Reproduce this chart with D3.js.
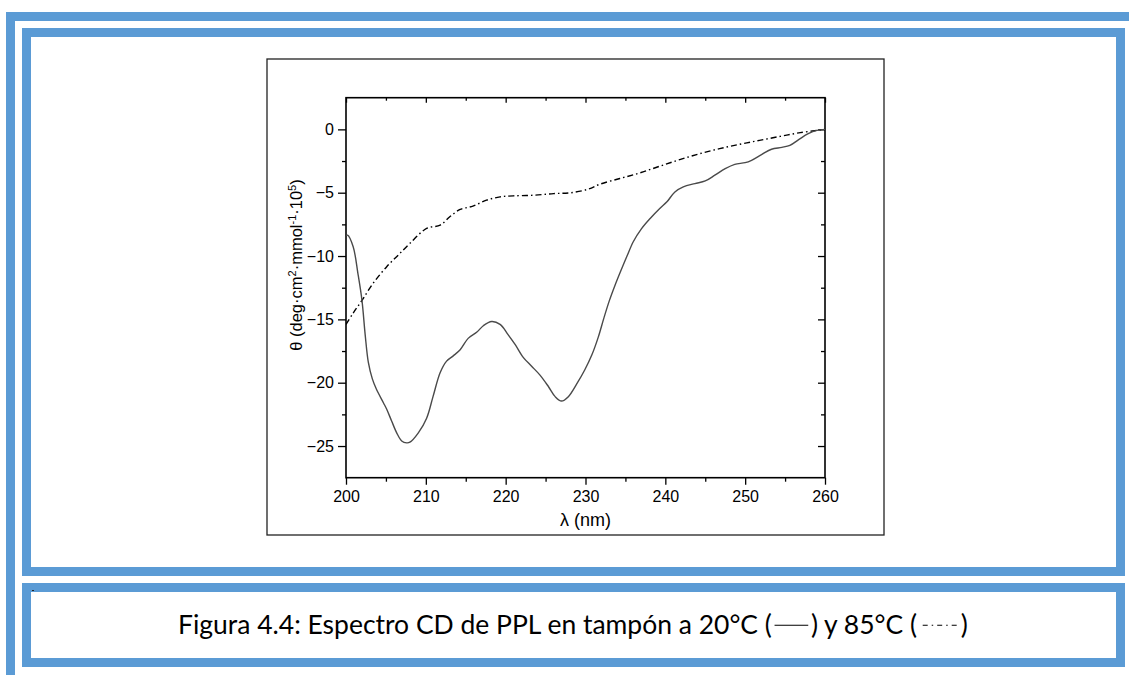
<!DOCTYPE html>
<html>
<head>
<meta charset="utf-8">
<script src="https://cdn.jsdelivr.net/npm/d3@7"></script>
<style>
  html, body { margin: 0; padding: 0; background: #fff; }
  svg { display: block; }
</style>
</head>
<body>
<svg id="chart" width="1129" height="675"></svg>
<script>
// ---- Data ----
const wavelength20 = [200.0, 200.2, 200.9, 201.5, 202.0, 202.4, 202.8, 203.3, 203.8, 204.7, 205.1, 205.7, 206.35, 206.98, 207.6, 208.0, 209.06, 210.1, 210.9, 211.8, 212.6, 213.4, 214.3, 215.3, 216.4, 217.2, 218.25, 219.3, 220.3, 221.2, 222.2, 223.25, 224.3, 225.35, 226.2, 227.0, 227.85, 228.9, 229.9, 230.8, 231.6, 232.3, 233.0, 233.7, 234.4, 235.2, 236.0, 237.0, 238.1, 239.3, 240.2, 241.2, 242.25, 243.7, 245.0, 246.2, 247.5, 248.7, 250.0, 250.8, 252.1, 253.3, 254.6, 255.6, 256.7, 257.9, 259.0, 260.0];
const theta20 = [-8.4, -8.35, -9.27, -11.4, -13.5, -16.2, -18.4, -19.7, -20.5, -21.6, -22.1, -23.0, -23.96, -24.6, -24.75, -24.7, -23.96, -22.8, -21.1, -19.2, -18.3, -17.9, -17.4, -16.5, -16.0, -15.5, -15.17, -15.4, -16.2, -17.0, -18.0, -18.7, -19.4, -20.3, -21.1, -21.45, -21.1, -20.1, -19.0, -17.8, -16.4, -14.9, -13.5, -12.3, -11.2, -10.0, -8.85, -7.85, -7.03, -6.24, -5.72, -4.94, -4.54, -4.28, -4.07, -3.62, -3.1, -2.76, -2.63, -2.44, -1.97, -1.57, -1.42, -1.26, -0.81, -0.34, -0.08, 0.0];

const wavelength85 = [200.0, 200.9, 202.0, 203.4, 205.1, 206.55, 208.0, 210.1, 211.8, 213.0, 214.3, 215.9, 217.6, 219.3, 220.95, 223.5, 226.0, 228.1, 230.35, 231.8, 234.3, 236.8, 239.3, 241.8, 244.3, 246.8, 249.3, 251.8, 254.4, 256.9, 260.0];
const theta85 = [-15.4, -14.5, -13.5, -12.15, -10.84, -9.92, -9.0, -7.82, -7.56, -6.9, -6.32, -6.06, -5.59, -5.33, -5.25, -5.2, -5.07, -5.01, -4.72, -4.33, -3.88, -3.44, -2.91, -2.39, -1.92, -1.52, -1.18, -0.87, -0.55, -0.26, 0.0];

const xMajorTicks = [200, 210, 220, 230, 240, 250, 260];
const xMinorTicks = [205, 215, 225, 235, 245, 255];
const yMajorTicks = [0, -5, -10, -15, -20, -25];
const yMinorTicks = [-2.5, -7.5, -12.5, -17.5, -22.5];

const xLabel = "λ (nm)";
const captionParts = ["Figura 4.4: Espectro CD de PPL en tampón a 20°C (", ") y 85°C (", ")"];

// ---- Layout ----
const svg = d3.select("#chart");
const blue = "#5B9BD5";
const plot = { left: 346, right: 825, top: 97.7, bottom: 477.7 };

// Decorative page borders
svg.append("rect").attr("x", 6).attr("y", 12).attr("width", 1123).attr("height", 9).attr("fill", blue);
svg.append("rect").attr("x", 6).attr("y", 12).attr("width", 9).attr("height", 663).attr("fill", blue);
svg.append("rect").attr("x", 26.5).attr("y", 32.5).attr("width", 1094).attr("height", 539)
  .attr("fill", "none").attr("stroke", blue).attr("stroke-width", 9);
svg.append("rect").attr("x", 26.5).attr("y", 587.5).attr("width", 1094).attr("height", 75)
  .attr("fill", "none").attr("stroke", blue).attr("stroke-width", 9);
svg.append("rect").attr("x", 32).attr("y", 590).attr("width", 2).attr("height", 1).attr("fill", "#222");

// Figure frame
svg.append("rect").attr("x", 267).attr("y", 59).attr("width", 617).attr("height", 476)
  .attr("fill", "#fff").attr("stroke", "#222").attr("stroke-width", 1.3);

// Scales
const x = d3.scaleLinear().domain([200, 260]).range([plot.left, plot.right]);
const y = d3.scaleLinear().domain([-27.5, 2.5]).range([plot.bottom, plot.top]);

const font = "'Liberation Sans', Arial, sans-serif";

function styleAxis(g) {
  g.select(".domain").remove();
  g.selectAll(".tick line").attr("stroke", "#000").attr("stroke-width", 1.3);
  g.selectAll(".tick text").attr("font-family", font).attr("font-size", 16).attr("fill", "#000");
}

// Bottom axis
svg.append("g").attr("transform", `translate(0,${plot.bottom})`)
  .call(d3.axisBottom(x).tickValues(xMajorTicks).tickSize(7).tickPadding(6).tickFormat(d3.format("d")))
  .call(styleAxis);
svg.append("g").attr("transform", `translate(0,${plot.bottom})`)
  .call(d3.axisBottom(x).tickValues(xMinorTicks).tickSize(4).tickFormat(""))
  .call(styleAxis);
// Top axis (inward)
svg.append("g").attr("transform", `translate(0,${plot.top})`)
  .call(d3.axisTop(x).tickValues(xMajorTicks).tickSize(-5).tickFormat(""))
  .call(styleAxis);
svg.append("g").attr("transform", `translate(0,${plot.top})`)
  .call(d3.axisTop(x).tickValues(xMinorTicks).tickSize(-3).tickFormat(""))
  .call(styleAxis);
// Left axis
svg.append("g").attr("transform", `translate(${plot.left},0)`)
  .call(d3.axisLeft(y).tickValues(yMajorTicks).tickSize(8).tickPadding(4).tickFormat(d3.format("d")))
  .call(styleAxis);
svg.append("g").attr("transform", `translate(${plot.left},0)`)
  .call(d3.axisLeft(y).tickValues(yMinorTicks).tickSize(4).tickFormat(""))
  .call(styleAxis);
// Right axis (inward)
svg.append("g").attr("transform", `translate(${plot.right},0)`)
  .call(d3.axisRight(y).tickValues(yMajorTicks).tickSize(-7).tickFormat(""))
  .call(styleAxis);
svg.append("g").attr("transform", `translate(${plot.right},0)`)
  .call(d3.axisRight(y).tickValues(yMinorTicks).tickSize(-4).tickFormat(""))
  .call(styleAxis);

// Plot box
svg.append("rect").attr("x", plot.left).attr("y", plot.top)
  .attr("width", plot.right - plot.left).attr("height", plot.bottom - plot.top)
  .attr("fill", "none").attr("stroke", "#000").attr("stroke-width", 1.6);

// Curves
const line = d3.line().x(d => x(d[0])).y(d => y(d[1])).curve(d3.curveCatmullRom.alpha(0.5));
svg.append("clipPath").attr("id", "pclip").append("rect")
  .attr("x", plot.left).attr("y", plot.top).attr("width", plot.right - plot.left).attr("height", plot.bottom - plot.top);

svg.append("path").attr("clip-path", "url(#pclip)")
  .attr("d", line(d3.zip(wavelength85, theta85)))
  .attr("fill", "none").attr("stroke", "#000").attr("stroke-width", 1.4)
  .attr("stroke-dasharray", "6,3,1.5,3");
svg.append("path").attr("clip-path", "url(#pclip)")
  .attr("d", line(d3.zip(wavelength20, theta20)))
  .attr("fill", "none").attr("stroke", "#4a4a4a").attr("stroke-width", 1.4);

// Axis titles
svg.append("text").attr("x", (plot.left + plot.right) / 2).attr("y", 526)
  .attr("text-anchor", "middle").attr("font-family", font).attr("font-size", 18).text(xLabel);

const yl = svg.append("text").attr("transform", "translate(302,265) rotate(-90)")
  .attr("text-anchor", "middle").attr("font-family", font).attr("font-size", 16.5);
yl.append("tspan").text("θ (deg·cm");
yl.append("tspan").attr("font-size", 11).attr("dy", -6).text("2");
yl.append("tspan").attr("dy", 6).text("·mmol");
yl.append("tspan").attr("font-size", 11).attr("dy", -6).text("-1");
yl.append("tspan").attr("dy", 6).text("·10");
yl.append("tspan").attr("font-size", 11).attr("dy", -6).text("5");
yl.append("tspan").attr("dy", 6).text(")");

// Caption with inline line samples (auto-fitted to the reference width)
const capFont = "Lato, 'Open Sans', sans-serif";
const capY = 634;
const targetW = 790;
const capG = svg.append("g");
const t = captionParts.map(s => capG.append("text").attr("y", capY)
  .attr("font-family", capFont).attr("font-size", 22).attr("fill", "#000").text(s));
let w = t.map(n => n.node().getComputedTextLength());
const base = w[0] + w[1] + w[2];
const sampleFrac1 = 28 / 22, sampleFrac2 = 32 / 22;
const size = 22 * targetW / (base + 22 * (sampleFrac1 + sampleFrac2 + 4 * 0.1));
t.forEach(n => n.attr("font-size", size));
w = t.map(n => n.node().getComputedTextLength());
const sampleW1 = size * sampleFrac1, sampleW2 = size * sampleFrac2, gap = size * 0.1;
const total = w[0] + w[1] + w[2] + sampleW1 + sampleW2 + 4 * gap;
let cx = 573 - total / 2;
t[0].attr("x", cx); cx += w[0] + gap;
const s1x = cx; cx += sampleW1 + gap;
t[1].attr("x", cx); cx += w[1] + gap;
const s2x = cx; cx += sampleW2 + gap;
t[2].attr("x", cx);
const lineY = capY - size * 0.33;
capG.append("line").attr("x1", s1x).attr("x2", s1x + sampleW1).attr("y1", lineY).attr("y2", lineY)
  .attr("stroke", "#000").attr("stroke-width", 1.2);
capG.append("line").attr("x1", s2x + 3).attr("x2", s2x + sampleW2).attr("y1", lineY).attr("y2", lineY)
  .attr("stroke", "#000").attr("stroke-width", 1.2).attr("stroke-dasharray", "5,4,1.5,4");
</script>
</body>
</html>
